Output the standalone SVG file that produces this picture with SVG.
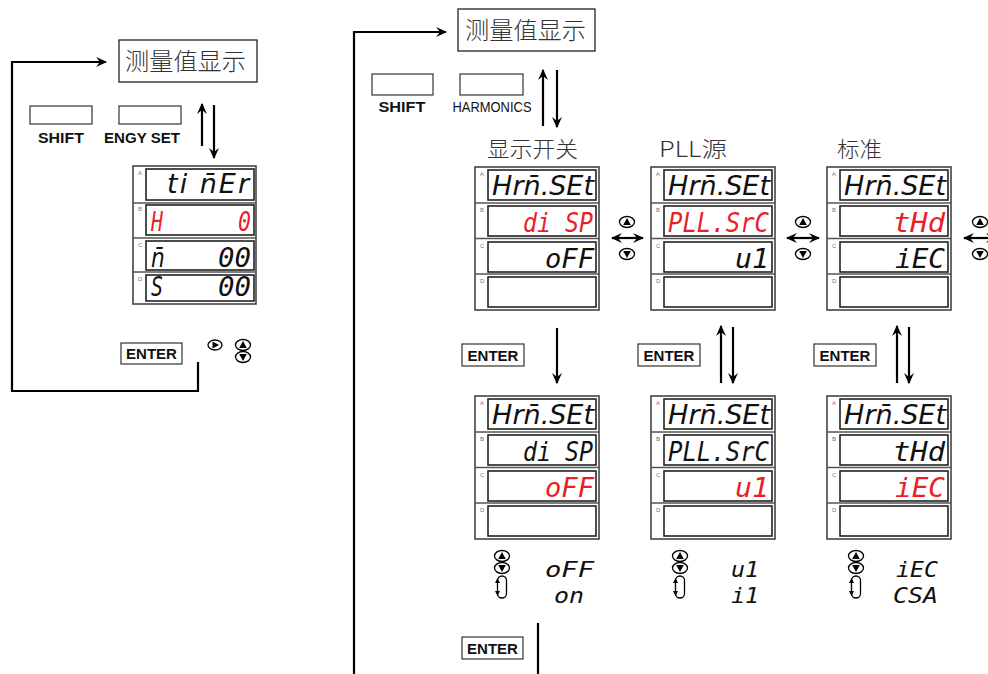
<svg xmlns="http://www.w3.org/2000/svg" xmlns:xlink="http://www.w3.org/1999/xlink" width="988" height="674" viewBox="0 0 988 674">
<style>
.bg{fill:#fff}
.box{fill:#fff;stroke:#222;stroke-width:1.3}
.key{fill:#fff;stroke:#333;stroke-width:1.2}
.outer{fill:#fff;stroke:#444;stroke-width:1.6}
.inner{fill:none;stroke:#222;stroke-width:1.6}
.sep{stroke:#555;stroke-width:1.6}
.lbl{font-family:"Liberation Sans",Arial,sans-serif;font-size:6px;fill:#777}
.seg{font-family:"DejaVu Sans Mono",monospace;font-style:italic;font-size:27px;fill:#111}
.segp{font-family:"DejaVu Sans",sans-serif;font-style:italic;font-size:27px;fill:#111}
.opt{font-family:"DejaVu Sans Mono",monospace;font-style:italic;font-size:22px;fill:#111}
.red{fill:#e81f27}
.cn{font-family:"Noto Sans CJK SC","Noto Sans",sans-serif;font-size:22px;font-weight:300;fill:#333}
.cnb{font-family:"Noto Sans CJK SC","Noto Sans",sans-serif;font-size:24px;font-weight:300;fill:#333}
.kt{font-family:"Liberation Sans",Arial,sans-serif;font-weight:bold;font-size:14px;fill:#111}
.kn{font-family:"Liberation Sans",Arial,sans-serif;font-size:15px;fill:#111}
.et{font-family:"Liberation Sans",Arial,sans-serif;font-weight:bold;font-size:15px;fill:#111}
.ln{fill:none;stroke:#000;stroke-width:2.2}
.ic{fill:#fff;stroke:#000;stroke-width:1.3}
</style>
<defs>
<marker id="ah" viewBox="0 0 10 10" refX="9" refY="5" markerWidth="11" markerHeight="11" markerUnits="userSpaceOnUse" orient="auto-start-reverse">
<path d="M0,0.5 L10,5 L0,9.5 L3.5,5 z" fill="#000"/>
</marker>
<g id="frame">
<rect class="outer" x="0" y="0" width="124" height="143"/>
<line class="sep" x1="0" y1="36" x2="124" y2="36"/>
<line class="sep" x1="0" y1="71.5" x2="124" y2="71.5"/>
<line class="sep" x1="0" y1="107" x2="124" y2="107"/>
<rect class="inner" x="13" y="3" width="108" height="30"/>
<rect class="inner" x="13" y="39" width="108" height="30"/>
<rect class="inner" x="13" y="75" width="108" height="30"/>
<rect class="inner" x="13" y="110" width="108" height="30"/>
<text class="lbl" x="5" y="9">A</text>
<text class="lbl" x="5" y="45">B</text>
<text class="lbl" x="5" y="81">C</text>
<text class="lbl" x="5" y="116">D</text>
</g>
<g id="up"><ellipse class="ic" cx="0" cy="0" rx="7.5" ry="5.5"/><path d="M0,-4 L3.8,3 L-3.8,3 z" fill="#000"/></g>
<g id="dn"><ellipse class="ic" cx="0" cy="0" rx="7.5" ry="5.5"/><path d="M0,4 L3.8,-3 L-3.8,-3 z" fill="#000"/></g>
<g id="rt"><ellipse class="ic" cx="0" cy="0" rx="7" ry="5"/><path d="M4,0 L-2.5,-3.5 L-2.5,3.5 z" fill="#000"/></g>
<g id="loop"><rect x="-4.5" y="0" width="9" height="22" rx="4.5" fill="none" stroke="#000" stroke-width="1.3"/><path d="M-4.5,2 L-7,7 L-2,7 z M-4.5,20 L-7,15 L-2,15 z" fill="#000"/></g>
</defs>
<rect class="bg" x="0" y="0" width="988" height="674"/>

<g id="connectors">
<polyline class="ln" points="198,362 198,391 12,391 12,62 106,62" marker-end="url(#ah)"/>
<line class="ln" x1="202" y1="146" x2="202" y2="104" marker-end="url(#ah)"/>
<line class="ln" x1="214" y1="105" x2="214" y2="158" marker-end="url(#ah)"/>
<polyline class="ln" points="354,674 354,32 446,32" marker-end="url(#ah)"/>
<line class="ln" x1="543" y1="126" x2="543" y2="70" marker-end="url(#ah)"/>
<line class="ln" x1="557" y1="70" x2="557" y2="127" marker-end="url(#ah)"/>
<line class="ln" x1="612" y1="238" x2="643" y2="238" marker-start="url(#ah)" marker-end="url(#ah)"/>
<line class="ln" x1="787" y1="238" x2="819" y2="238" marker-start="url(#ah)" marker-end="url(#ah)"/>
<line class="ln" x1="964" y1="238" x2="996" y2="238" marker-start="url(#ah)" marker-end="url(#ah)"/>
<line class="ln" x1="557" y1="328" x2="557" y2="383" marker-end="url(#ah)"/>
<line class="ln" x1="721" y1="383" x2="721" y2="326" marker-end="url(#ah)"/>
<line class="ln" x1="733" y1="327" x2="733" y2="383" marker-end="url(#ah)"/>
<line class="ln" x1="897" y1="383" x2="897" y2="326" marker-end="url(#ah)"/>
<line class="ln" x1="909" y1="327" x2="909" y2="383" marker-end="url(#ah)"/>
<line class="ln" x1="538" y1="623" x2="538" y2="674"/>
</g>

<g id="measure-left">
<rect class="box" x="119" y="40" width="138" height="42"/>
<text class="cnb" x="125" y="70" textLength="121" lengthAdjust="spacingAndGlyphs">测量值显示</text>
</g>
<g id="keys-left">
<rect class="key" x="30" y="106" width="62" height="18"/>
<rect class="key" x="119" y="106" width="62" height="18"/>
<text class="kt" x="61" y="143" text-anchor="middle" textLength="46" lengthAdjust="spacingAndGlyphs">SHIFT</text>
<text class="kt" x="142" y="143" text-anchor="middle" textLength="76" lengthAdjust="spacingAndGlyphs">ENGY SET</text>
</g>
<g id="display-timer">
<rect class="outer" x="133" y="166" width="123" height="138"/>
<line class="sep" x1="133" y1="203" x2="256" y2="203"/>
<line class="sep" x1="133" y1="238" x2="256" y2="238"/>
<line class="sep" x1="133" y1="272" x2="256" y2="272"/>
<rect class="inner" x="146" y="169" width="108" height="31"/>
<rect class="inner" x="146" y="205" width="108" height="30"/>
<rect class="inner" x="146" y="241" width="108" height="29"/>
<rect class="inner" x="146" y="275" width="108" height="26"/>
<text class="lbl" x="138" y="175">A</text>
<text class="lbl" x="138" y="211">B</text>
<text class="lbl" x="138" y="247">C</text>
<text class="lbl" x="138" y="281">D</text>
<text class="segp" x="251" y="193" text-anchor="end" style="letter-spacing:2px">ti n̄Er</text>
<text class="seg red" x="151" y="231" textLength="12" lengthAdjust="spacingAndGlyphs">H</text>
<text class="seg red" x="251" y="231" text-anchor="end" textLength="13" lengthAdjust="spacingAndGlyphs">0</text>
<text class="segp" transform="translate(151,267) scale(0.8,1)">n̄</text>
<text class="seg" x="251" y="267" text-anchor="end" textLength="33" lengthAdjust="spacingAndGlyphs">00</text>
<text class="seg" x="151" y="296" textLength="12" lengthAdjust="spacingAndGlyphs">S</text>
<text class="seg" x="251" y="296" text-anchor="end" textLength="33" lengthAdjust="spacingAndGlyphs">00</text>
</g>
<g id="enter-left">
<rect class="key" x="121" y="343" width="61" height="21"/>
<text class="et" x="151.5" y="359" text-anchor="middle">ENTER</text>
<use href="#rt" x="215" y="345"/>
<use href="#up" x="243" y="345"/>
<use href="#dn" x="243" y="357"/>
</g>

<g id="measure-right">
<rect class="box" x="458" y="9" width="137" height="42"/>
<text class="cnb" x="465" y="39" textLength="121" lengthAdjust="spacingAndGlyphs">测量值显示</text>
</g>
<g id="keys-right">
<rect class="key" x="372" y="74" width="61" height="21"/>
<rect class="key" x="460" y="74" width="63" height="21"/>
<text class="kt" x="402" y="112" text-anchor="middle" textLength="47" lengthAdjust="spacingAndGlyphs">SHIFT</text>
<text class="kn" x="492" y="112" text-anchor="middle" textLength="79" lengthAdjust="spacingAndGlyphs">HARMONICS</text>
</g>

<g id="disp-onoff">
<text class="cn" x="487" y="157" textLength="91" lengthAdjust="spacingAndGlyphs">显示开关</text>
<use href="#frame" x="475" y="167"/>
<text class="segp" x="594" y="195" text-anchor="end">Hrn̄.SEt</text>
<text class="seg red" x="593" y="232" text-anchor="end" textLength="70" lengthAdjust="spacingAndGlyphs">di SP</text>
<text class="seg" x="594" y="268" text-anchor="end" textLength="49" lengthAdjust="spacingAndGlyphs">oFF</text>
</g>
<g id="disp-pll">
<text class="cn" x="659" y="157" textLength="68" lengthAdjust="spacingAndGlyphs">PLL源</text>
<use href="#frame" x="651" y="167"/>
<text class="segp" x="770" y="195" text-anchor="end">Hrn̄.SEt</text>
<text class="seg red" x="769" y="232" text-anchor="end" textLength="101" lengthAdjust="spacingAndGlyphs">PLL.SrC</text>
<text class="seg" x="769" y="268" text-anchor="end" textLength="34" lengthAdjust="spacingAndGlyphs">u1</text>
</g>
<g id="disp-std">
<text class="cn" x="837" y="157" textLength="45" lengthAdjust="spacingAndGlyphs">标准</text>
<use href="#frame" x="827" y="167"/>
<text class="segp" x="946" y="195" text-anchor="end">Hrn̄.SEt</text>
<text class="seg red" x="945" y="232" text-anchor="end" textLength="52" lengthAdjust="spacingAndGlyphs">tHd</text>
<text class="seg" x="945" y="268" text-anchor="end" textLength="50" lengthAdjust="spacingAndGlyphs">iEC</text>
</g>

<g id="nav-icons">
<use href="#up" x="627" y="222"/><use href="#dn" x="627" y="254"/>
<use href="#up" x="803" y="222"/><use href="#dn" x="803" y="254"/>
<use href="#up" x="980" y="222"/><use href="#dn" x="980" y="254"/>
</g>

<g id="enter-row">
<rect class="key" x="462" y="344" width="62" height="22"/>
<text class="et" x="493" y="361" text-anchor="middle">ENTER</text>
<rect class="key" x="638" y="344" width="62" height="22"/>
<text class="et" x="669" y="361" text-anchor="middle">ENTER</text>
<rect class="key" x="814" y="344" width="62" height="22"/>
<text class="et" x="845" y="361" text-anchor="middle">ENTER</text>
</g>

<g id="disp-onoff-edit">
<use href="#frame" x="475" y="396"/>
<text class="segp" x="594" y="424" text-anchor="end">Hrn̄.SEt</text>
<text class="seg" x="593" y="461" text-anchor="end" textLength="70" lengthAdjust="spacingAndGlyphs">di SP</text>
<text class="seg red" x="594" y="497" text-anchor="end" textLength="49" lengthAdjust="spacingAndGlyphs">oFF</text>
</g>
<g id="disp-pll-edit">
<use href="#frame" x="651" y="396"/>
<text class="segp" x="770" y="424" text-anchor="end">Hrn̄.SEt</text>
<text class="seg" x="769" y="461" text-anchor="end" textLength="101" lengthAdjust="spacingAndGlyphs">PLL.SrC</text>
<text class="seg red" x="769" y="497" text-anchor="end" textLength="34" lengthAdjust="spacingAndGlyphs">u1</text>
</g>
<g id="disp-std-edit">
<use href="#frame" x="827" y="396"/>
<text class="segp" x="946" y="424" text-anchor="end">Hrn̄.SEt</text>
<text class="seg" x="945" y="461" text-anchor="end" textLength="52" lengthAdjust="spacingAndGlyphs">tHd</text>
<text class="seg red" x="945" y="497" text-anchor="end" textLength="50" lengthAdjust="spacingAndGlyphs">iEC</text>
</g>

<g id="opt-onoff">
<use href="#up" x="502" y="556"/><use href="#dn" x="502" y="568"/>
<use href="#loop" x="502" y="576"/>
<text class="opt" x="594" y="577" text-anchor="end" textLength="49" lengthAdjust="spacingAndGlyphs">oFF</text>
<text class="opt" x="584" y="603" text-anchor="end" textLength="30" lengthAdjust="spacingAndGlyphs">on</text>
</g>
<g id="opt-pll">
<use href="#up" x="680" y="556"/><use href="#dn" x="680" y="568"/>
<use href="#loop" x="680" y="576"/>
<text class="opt" x="759" y="577" text-anchor="end" textLength="28" lengthAdjust="spacingAndGlyphs">u1</text>
<text class="opt" x="759" y="603" text-anchor="end" textLength="28" lengthAdjust="spacingAndGlyphs">i1</text>
</g>
<g id="opt-std">
<use href="#up" x="856" y="556"/><use href="#dn" x="856" y="568"/>
<use href="#loop" x="856" y="576"/>
<text class="opt" x="938" y="577" text-anchor="end" textLength="42" lengthAdjust="spacingAndGlyphs">iEC</text>
<text class="opt" x="938" y="603" text-anchor="end" textLength="45" lengthAdjust="spacingAndGlyphs">CSA</text>
</g>

<g id="enter-bottom">
<rect class="key" x="462" y="637" width="61" height="22"/>
<text class="et" x="492.5" y="654" text-anchor="middle">ENTER</text>
</g>
</svg>
